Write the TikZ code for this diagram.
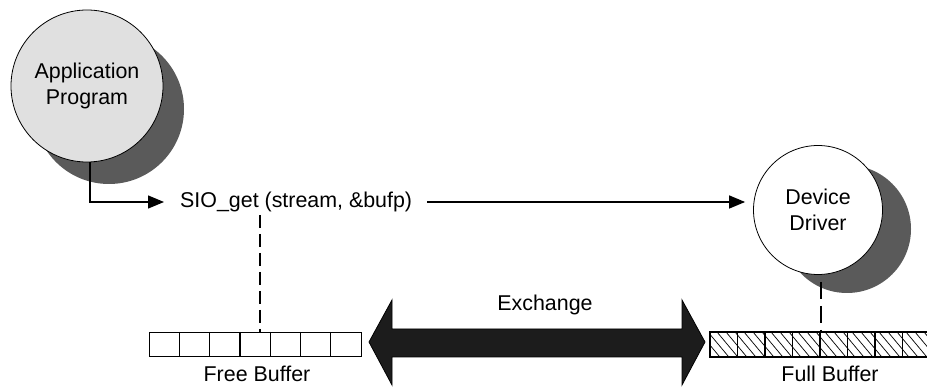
\documentclass[tikz,border=0pt]{standalone}
\usepackage{fontspec}
\setmainfont{Liberation Sans}
\usetikzlibrary{arrows.meta,calc}
\definecolor{shadowgray}{HTML}{5A5A5A}
\definecolor{appfill}{HTML}{E0E0E0}
\definecolor{exfill}{HTML}{1C1C1C}
\tikzset{
  lbl/.style={font=\fontsize{21.4}{25.5}\selectfont, inner sep=0pt, align=center},
  shadowcirc/.style={circle, fill=shadowgray, inner sep=0pt},
  maincirc/.style={circle, draw=black, line width=0.8pt, inner sep=0pt, lbl},
  flow/.style={line width=1.4pt, -{Triangle[length=16pt,width=13pt]}},
  dashlink/.style={line width=1.4pt, dash pattern=on 13pt off 6pt},
  bufbox/.style={draw=black, line width=1.2pt, fill=white, minimum height=24pt, inner sep=0pt}
}
\begin{document}
\begin{tikzpicture}[x=1pt,y=-1pt]
\useasboundingbox (0,0) rectangle (927,387);
% application program
\node[shadowcirc, minimum size=150pt] (appsh) at (109,109) {};
\node[maincirc, fill=appfill, minimum size=152pt] (app) at (87,86) {Application\\Program};
% device driver
\node[shadowcirc, minimum size=128pt] (devsh) at (847,229) {};
\node[maincirc, fill=white, minimum size=129pt] (dev) at (818,210) {Device\\Driver};
% call text
\node[lbl, anchor=west] (sio) at (180,202) {SIO\_get (stream, \&bufp)};
% connectors
\coordinate (apptip) at (164,202);
\draw[flow] ([xshift=3pt]app.south) |- (apptip);
\draw[flow, shorten <=15pt, shorten >=8pt] (sio.east) -- (dev.west |- sio.east);
% free buffer
\node[bufbox, minimum width=212pt, anchor=north west] (freebuf) at (149,332) {};
\foreach \i in {1,...,6} {
  \draw[line width=1.2pt] ($(freebuf.north west)+(\i*30.3,0)$) -- ($(freebuf.south west)+(\i*30.3,0)$);
}
\node[lbl] (freelbl) at (257,374) {Free Buffer};
\coordinate (siodash) at (260,215);
\draw[dashlink] (siodash) -- (siodash |- freebuf.north);
% full buffer
\node[bufbox, minimum width=250pt, anchor=north west] (fullbuf) at (710,332) {};
\begin{scope}
  \clip (fullbuf.north west) rectangle (fullbuf.south east);
  \foreach \k in {0,...,26} {
    \draw[line width=0.7pt] ($(fullbuf.north west)+(\k*9-20,0)$) -- ++(20,24);
  }
\end{scope}
\draw[line width=1.2pt] (fullbuf.north west) rectangle (fullbuf.south east);
\foreach \i in {1,...,8} {
  \draw[line width=1.2pt] ($(fullbuf.north west)+(\i*27.5,0)$) -- ($(fullbuf.south west)+(\i*27.5,0)$);
}
\node[lbl] (fulllbl) at (830,374) {Full Buffer};
\coordinate (devdash) at (821,282);
\draw[dashlink, dash pattern=on 17pt off 7pt] (devdash) -- (devdash |- fullbuf.north);
% exchange arrow
\draw[fill=exfill, line width=0.8pt]
  (369,342) -- (392,300) -- (392,329) -- (682,329) -- (682,300) -- (705,342)
  -- (682,385) -- (682,357) -- (392,357) -- (392,385) -- cycle;
\node[lbl] (exlbl) at (545,305) {Exchange};
\end{tikzpicture}
\end{document}
